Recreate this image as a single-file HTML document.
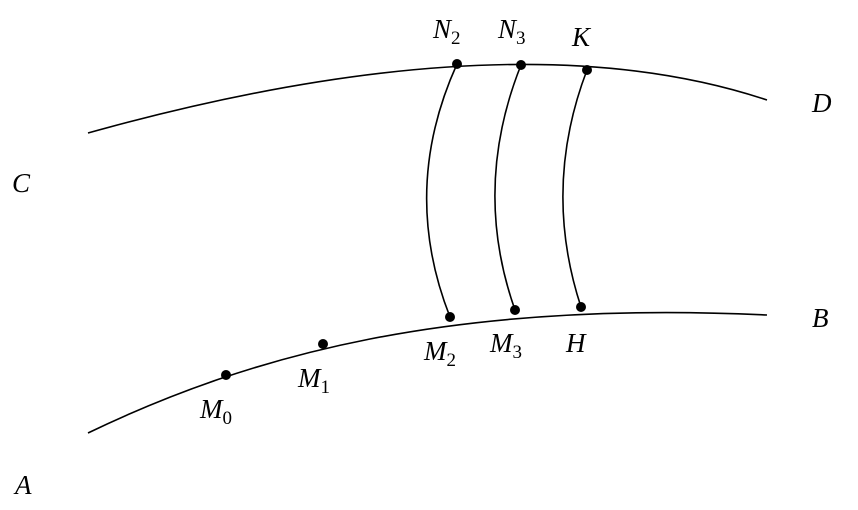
<!DOCTYPE html>
<html><head><meta charset="utf-8"><style>
html,body{margin:0;padding:0;background:#fff;}
svg{display:block;}
text{font-family:"Liberation Serif",serif;font-style:italic;font-size:27px;fill:#000;}
.s{font-style:normal;font-size:19px;}
</style></head><body>
<svg width="858" height="510" viewBox="0 0 858 510" xmlns="http://www.w3.org/2000/svg">
<g fill="none" stroke="#000" stroke-width="1.6">
<path d="M88,133 Q512,15 767,100"/>
<path d="M88,433 C250,355 450,300 767,315"/>
<path d="M457,64 Q400,190 450,317"/>
<path d="M521,65 Q472,188 515,310"/>
<path d="M587,70 Q542,188 581,307"/>
</g>
<g fill="#000">
<circle cx="457" cy="64" r="5"/><circle cx="521" cy="65" r="5"/><circle cx="587" cy="70" r="5"/>
<circle cx="226" cy="375" r="5"/><circle cx="323" cy="344" r="5"/>
<circle cx="450" cy="317" r="5"/><circle cx="515" cy="310" r="5"/><circle cx="581" cy="307" r="5"/>
</g>
<text x="433" y="38">N<tspan class="s" dy="6">2</tspan></text>
<text x="498" y="38">N<tspan class="s" dy="6">3</tspan></text>
<text x="572" y="46">K</text>
<text x="812" y="112">D</text>
<text x="12" y="192">C</text>
<text x="812" y="327">B</text>
<text x="15" y="494">A</text>
<text x="424" y="360">M<tspan class="s" dy="6">2</tspan></text>
<text x="490" y="352">M<tspan class="s" dy="6">3</tspan></text>
<text x="566" y="352">H</text>
<text x="298" y="387">M<tspan class="s" dy="6">1</tspan></text>
<text x="200" y="418">M<tspan class="s" dy="6">0</tspan></text>
</svg>
</body></html>
